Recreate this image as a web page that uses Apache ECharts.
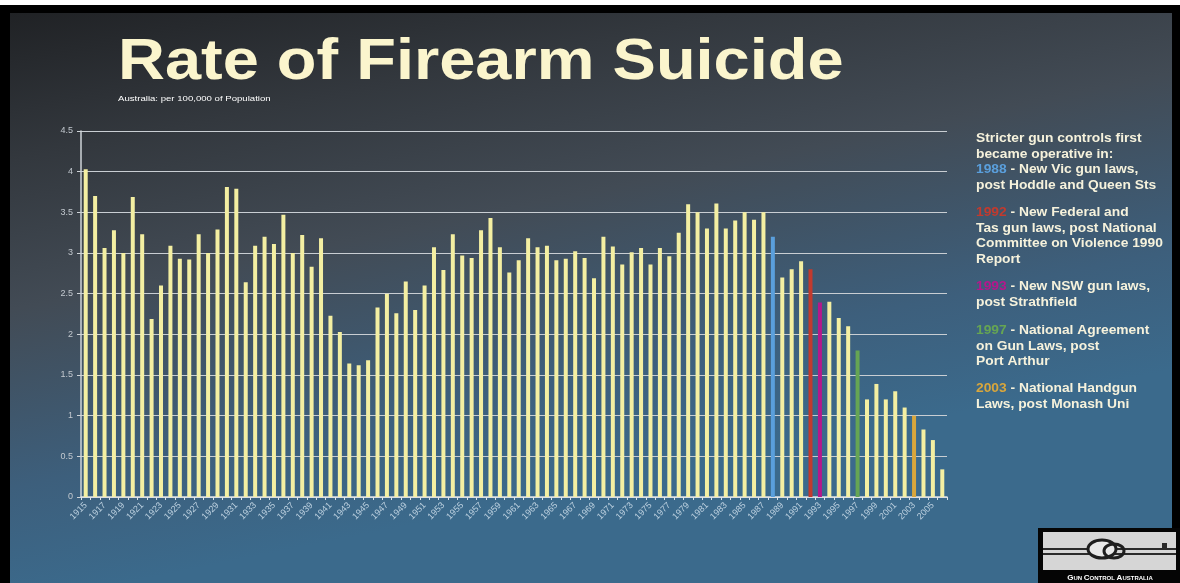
<!DOCTYPE html>
<html lang="en">
<head>
    <meta charset="utf-8">
    <title>Rate of Firearm Suicide</title>
    <script src="https://cdn.jsdelivr.net/npm/echarts@6/dist/echarts.min.js"></script>
    <style>
        html, body { margin: 0; padding: 0; background: #fff; }
        #container { width: 1180px; height: 583px; }
    </style>
</head>
<body>
<div id="container"></div>
<script>
    // years on the x axis
    var years = ['1915','1916','1917','1918','1919','1920','1921','1922','1923','1924',
        '1925','1926','1927','1928','1929','1930','1931','1932','1933','1934',
        '1935','1936','1937','1938','1939','1940','1941','1942','1943','1944',
        '1945','1946','1947','1948','1949','1950','1951','1952','1953','1954',
        '1955','1956','1957','1958','1959','1960','1961','1962','1963','1964',
        '1965','1966','1967','1968','1969','1970','1971','1972','1973','1974',
        '1975','1976','1977','1978','1979','1980','1981','1982','1983','1984',
        '1985','1986','1987','1988','1989','1990','1991','1992','1993','1994',
        '1995','1996','1997','1998','1999','2000','2001','2002','2003','2004',
        '2005','2006'];
    // firearm suicide rate per 100,000
    var rates = [4.03,3.70,3.06,3.28,3.00,3.69,3.23,2.19,2.60,3.09,
        2.93,2.92,3.23,3.00,3.29,3.81,3.79,2.64,3.09,3.20,
        3.11,3.47,3.00,3.22,2.83,3.18,2.23,2.03,1.64,1.62,
        1.68,2.33,2.50,2.26,2.65,2.30,2.60,3.07,2.79,3.23,
        2.97,2.94,3.28,3.43,3.07,2.76,2.91,3.18,3.07,3.09,
        2.91,2.93,3.02,2.94,2.69,3.20,3.08,2.86,3.01,3.06,
        2.86,3.06,2.96,3.25,3.60,3.50,3.30,3.61,3.30,3.40,
        3.50,3.41,3.50,3.20,2.70,2.80,2.90,2.80,2.39,2.40,
        2.20,2.10,1.80,1.20,1.39,1.20,1.30,1.10,1.00,0.83,
        0.70,0.34];
    // law change years and their colours
    var lawYears = ['1988','1992','1993','1997','2003'];
    var lawColors = ['#5a9fdc','#c23a2e','#b5178c','#66a553','#d8a63c'];
    var lawText = [
        ['- New Vic gun laws,', 'post Hoddle and Queen Sts'],
        ['- New Federal and', 'Tas gun laws, post National', 'Committee on Violence 1990', 'Report'],
        ['- New NSW gun laws,', 'post Strathfield'],
        ['- National Agreement', 'on Gun Laws, post', 'Port Arthur'],
        ['- National Handgun', 'Laws, post Monash Uni']
    ];
    var yTicks = [0, 4.5, 0.5]; // min, max, step

    var barColor = '#f4efa2';
    var barData = rates.map(function (v, i) {
        var k = lawYears.indexOf(years[i]);
        return k < 0 ? v : { value: v, itemStyle: { color: lawColors[k] } };
    });

    var dom = document.getElementById('container');
    var myChart = echarts.init(dom, null, { renderer: 'canvas' });

    // right hand notes
    var noteFont = 'bold 12px "Liberation Sans", Arial, sans-serif';
    var notes = [];
    notes.push({
        type: 'text', x: 976, y: 131, scaleX: 1.15, z: 10,
        style: { text: 'Stricter gun controls first\nbecame operative in:', font: noteFont,
            fill: '#f6f2dc', lineHeight: 15.5 }
    });
    var noteY = [162, 205, 279, 323, 381];
    for (var i = 0; i < lawYears.length; i++) {
        var lines = lawText[i];
        var txt = '{y|' + lawYears[i] + '} ' + lines[0];
        for (var j = 1; j < lines.length; j++) txt += '\n' + lines[j];
        var rich = { y: { fill: lawColors[i], font: noteFont, lineHeight: 15.5 } };
        notes.push({
            type: 'text', x: 976, y: noteY[i], scaleX: 1.15, z: 10,
            style: { text: txt, font: noteFont, fill: '#f6f2dc', lineHeight: 15.5, rich: rich }
        });
    }

    var option = {
        backgroundColor: '#ffffff',
        animation: false,
        grid: { left: 81, right: 233, top: 131, bottom: 86 },
        xAxis: {
            type: 'category',
            data: years,
            axisLine: { lineStyle: { color: '#dfe4e8', width: 1.5 } },
            axisTick: { show: true, length: 3, interval: 0, lineStyle: { color: '#dfe4e8' } },
            axisLabel: {
                interval: 1, rotate: 45, margin: 7,
                color: '#bcd0df', fontSize: 9, fontFamily: 'Liberation Sans, Arial, sans-serif'
            }
        },
        yAxis: {
            type: 'value',
            min: yTicks[0], max: yTicks[1], interval: yTicks[2],
            axisLine: { show: true, lineStyle: { color: '#cfd4d8', width: 1.5 } },
            axisTick: { show: true, length: 4, lineStyle: { color: '#cfd4d8' } },
            axisLabel: { color: '#c3c9cf', fontSize: 9, margin: 8, fontFamily: 'Liberation Sans, Arial, sans-serif' },
            splitLine: { lineStyle: { color: '#c9ced3', width: 1.2 } }
        },
        series: [{
            type: 'bar',
            data: barData,
            barWidth: 4,
            itemStyle: { color: barColor },
            z: 3
        }],
        graphic: [
            // frame and slide background
            { type: 'rect', z: -10, silent: true, shape: { x: 0, y: 5, width: 1180, height: 578 }, style: { fill: '#000' } },
            { type: 'rect', z: -9, silent: true, shape: { x: 10, y: 13, width: 1162, height: 570 },
                style: { fill: new echarts.graphic.LinearGradient(0, 0, 0.1, 1, [
                    { offset: 0, color: '#202225' },
                    { offset: 0.25, color: '#33383e' },
                    { offset: 0.5, color: '#424b55' },
                    { offset: 0.8, color: '#3d5f7c' },
                    { offset: 1, color: '#3b6a8c' }
                ]) } },
            // title
            { type: 'text', x: 118, y: 34, scaleX: 1.12, z: 10,
                style: { text: 'Rate of Firearm Suicide', font: 'bold 58px "Liberation Sans", Arial, sans-serif', fill: '#fbf5cd' } },
            { type: 'text', x: 118, y: 95, scaleX: 1.2, z: 10,
                style: { text: 'Australia: per 100,000 of Population', font: '8px "Liberation Sans", Arial, sans-serif', fill: '#ffffff' } },
            // logo
            { type: 'rect', z: 10, shape: { x: 1038, y: 528, width: 142, height: 55 }, style: { fill: '#050505' } },
            { type: 'rect', z: 11, shape: { x: 1043, y: 532, width: 133, height: 38 }, style: { fill: '#d6d6d6' } },
            { type: 'line', z: 12, shape: { x1: 1043, y1: 549, x2: 1176, y2: 549 }, style: { stroke: '#2a2a2a', lineWidth: 2 } },
            { type: 'line', z: 12, shape: { x1: 1043, y1: 554, x2: 1176, y2: 554 }, style: { stroke: '#2a2a2a', lineWidth: 2 } },
            { type: 'ellipse', z: 13, shape: { cx: 1102, cy: 549, rx: 14, ry: 9 }, style: { fill: '#e8e8e8', stroke: '#1e1e1e', lineWidth: 3 } },
            { type: 'ellipse', z: 13, shape: { cx: 1114, cy: 551, rx: 10, ry: 7 }, style: { fill: 'none', stroke: '#1e1e1e', lineWidth: 3 } },
            { type: 'rect', z: 13, shape: { x: 1162, y: 543, width: 5, height: 6 }, style: { fill: '#2a2a2a' } },
            { type: 'text', x: 1110, y: 578, z: 12,
                style: { text: '{b|G}{s|UN }{b|C}{s|ONTROL }{b|A}{s|USTRALIA}', fill: '#ffffff', align: 'center', verticalAlign: 'middle',
                    rich: { b: { font: 'bold 8px "Liberation Sans", Arial', fill: '#fff' }, s: { font: 'bold 6px "Liberation Sans", Arial', fill: '#fff' } } } }
        ].concat(notes)
    };

    if (option && typeof option === 'object') {
        myChart.setOption(option, true);
    }
</script>
</body>
</html>
